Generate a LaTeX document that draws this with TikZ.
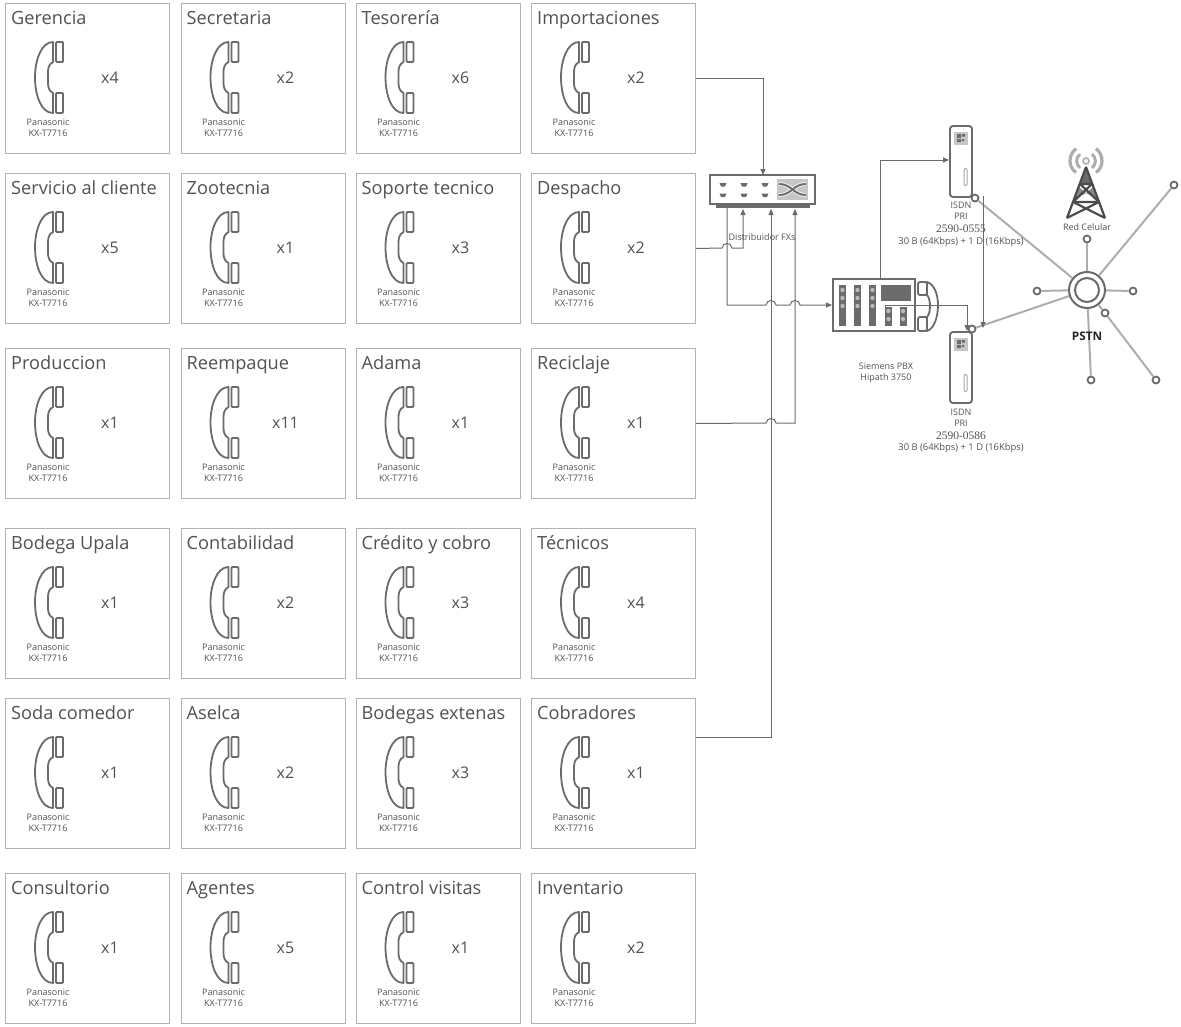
\documentclass[tikz,border=0pt]{standalone}
\usepackage{fontspec}
\setmainfont{Open Sans}
\newfontfamily\numfont{Liberation Serif}
\usetikzlibrary{arrows.meta,calc}
\definecolor{boxgray}{gray}{0.7}
\definecolor{ink}{gray}{0.32}
\definecolor{dev}{gray}{0.42}
\definecolor{wirec}{gray}{0.42}
\definecolor{spoke}{gray}{0.68}
\newcommand{\hopx}[2]{-- (#1-5,#2) .. controls (#1-4,#2-6) and (#1+4,#2-6) .. (#1+5,#2)}
\newcommand{\office}[6]{%
  \node[officebox] (#1) at (#2,#3) {};
  \node[titletext] (#1-t) at ($(#1.north west)+(6,21.5)$) {#4};
  \pic at (#1.north west) {handset};
  \node[counttext] (#1-c) at ($(#1.north west)+(#6,75)$) {#5};
  \node[smalltext,align=center] (#1-m) at ($(#1.north west)+(43,124.5)$) {Panasonic\\KX-T7716};
}
\tikzset{
  x=1pt,y=-1pt,
  officebox/.style={draw=boxgray,line width=1pt,fill=white,anchor=north west,minimum width=164pt,minimum height=150pt,inner sep=0pt},
  titletext/.style={anchor=base west,inner sep=0pt,text=ink,font=\fontsize{18.2}{18}\selectfont},
  counttext/.style={inner sep=0pt,text=ink,font=\fontsize{16}{18}\selectfont},
  smalltext/.style={inner sep=0pt,text=ink,font=\fontsize{9}{11}\selectfont},
  ratetext/.style={inner sep=0pt,text=ink,font=\fontsize{9.4}{11}\selectfont},
  devline/.style={draw=dev,line width=1.8pt},
  wire/.style={draw=wirec,line width=1pt,-{Triangle[length=6pt,width=5pt]}},
  wireplain/.style={draw=wirec,line width=1pt},
  spokeline/.style={draw=spoke,line width=2pt},
  endpoint/.style={circle,draw=dev,line width=1.8pt,fill=white,minimum size=7pt,inner sep=0pt},
  handset/.pic={
    \draw[devline,line join=round] (48,39) .. controls (36,39) and (30,58) .. (30,74)
      .. controls (30,92) and (36,110) .. (48,110) -- (48,90) .. controls (44,88) and (43,84) .. (43,80) -- (43,69) .. controls (43,65) and (44,61) .. (48,59) -- cycle;
    \draw[devline,rounded corners=1pt] (51,39) rectangle (58,59);
    \draw[devline,rounded corners=1pt] (51,90) rectangle (58,110);
  },
  isdnpic/.pic={
    \fill[gray!45] (-7,-30) rectangle (7,-17);
    \fill[dev] (-4,-27.5) rectangle (0,-23.5) (1,-27.5) rectangle (4,-25) (-4,-22.5) rectangle (0,-19.5) (1,-22.5) rectangle (3,-20.5);
    \draw[draw=gray!70,line width=1pt,rounded corners=1pt] (3,7) rectangle (6,24);
  },
  isdnbox/.style={draw=dev,line width=1.9pt,rounded corners=3pt,fill=white,minimum width=22pt,minimum height=71pt,inner sep=0pt},
}
\begin{document}
\begin{tikzpicture}
\useasboundingbox (0,0) rectangle (1181,1026);
\office{gerencia}{5}{3}{Gerencia}{x4}{105}
\office{secretaria}{180.5}{3}{Secretaria}{x2}{105}
\office{tesoreria}{355.5}{3}{Tesorería}{x6}{105}
\office{importaciones}{531}{3}{Importaciones}{x2}{105}
\office{servicio}{5}{173}{Servicio al cliente}{x5}{105}
\office{zootecnia}{180.5}{173}{Zootecnia}{x1}{105}
\office{soporte}{355.5}{173}{Soporte tecnico}{x3}{105}
\office{despacho}{531}{173}{Despacho}{x2}{105}
\office{produccion}{5}{348}{Produccion}{x1}{105}
\office{reempaque}{180.5}{348}{Reempaque}{x11}{105}
\office{adama}{355.5}{348}{Adama}{x1}{105}
\office{reciclaje}{531}{348}{Reciclaje}{x1}{105}
\office{upala}{5}{528}{Bodega Upala}{x1}{105}
\office{contabilidad}{180.5}{528}{Contabilidad}{x2}{105}
\office{credito}{355.5}{528}{Crédito y cobro}{x3}{105}
\office{tecnicos}{531}{528}{Técnicos}{x4}{105}
\office{soda}{5}{698}{Soda comedor}{x1}{105}
\office{aselca}{180.5}{698}{Aselca}{x2}{105}
\office{bodegas}{355.5}{698}{Bodegas extenas}{x3}{105}
\office{cobradores}{531}{698}{Cobradores}{x1}{105}
\office{consultorio}{5}{873}{Consultorio}{x1}{105}
\office{agentes}{180.5}{873}{Agentes}{x5}{105}
\office{control}{355.5}{873}{Control visitas}{x1}{105}
\office{inventario}{531}{873}{Inventario}{x2}{105}

% Distribuidor
\node[draw=dev,line width=2pt,fill=white,minimum width=105pt,minimum height=29pt,inner sep=0pt] (sw) at (762.5,189.5) {};
\fill[dev] (716,204) rectangle (810,208);
\foreach \xx in {723,744,765}{
  \foreach \yy in {183,193.5}{
    \fill[dev] (\xx-3.5,\yy) -- (\xx+3.5,\yy) -- (\xx+2,\yy+3.5) -- (\xx-2,\yy+3.5) -- cycle;
  }
}
\fill[gray!45] (777,179) rectangle (808,200);
\foreach \cc/\wd in {white/3.6,dev/2}{
\draw[\cc,line width=\wd pt] (779,184) .. controls (792,184) and (793,195) .. (806,195);
\draw[\cc,line width=\wd pt] (779,195) .. controls (792,195) and (793,184) .. (806,184);
}
\coordinate (swtop) at (763,175);
\coordinate (swa) at (727,208);
\coordinate (swb) at (743,209);
\coordinate (swc) at (771,209);
\coordinate (swd) at (795,209);

% PBX
\node[draw=dev,line width=1.9pt,fill=white,minimum width=82pt,minimum height=52pt,inner sep=0pt] (pbx) at (874,305) {};
\foreach \xx in {842.5,857.5,872.5}{
  \fill[dev] (\xx-3.5,285) rectangle (\xx+3.5,326);
  \foreach \yy in {290,298,306}{\fill[gray!55] (\xx,\yy) circle (2.2);}
}
\fill[dev] (881,285) rectangle (911,301);
\foreach \xx in {888.5,903}{
  \fill[dev] (\xx-3.5,307) rectangle (\xx+3.5,326);
  \foreach \yy in {311,319}{\fill[gray!55] (\xx,\yy) circle (2.2);}
}
\draw[devline,line join=round] (927,282) .. controls (934,284) and (938,294) .. (938,305)
  .. controls (938,317) and (934,329) .. (927,331) -- (927,317) .. controls (931,313) and (931,299) .. (927,295) -- cycle;
\draw[devline,rounded corners=2pt] (918,282) rectangle (927,295);
\draw[devline,rounded corners=2pt] (918,317) rectangle (927,331);
\node[smalltext,align=center] (pbxlabel) at (886,373) {Siemens PBX\\Hipath 3750};

% ISDN
\node[isdnbox] (isdn1) at (961,161.5) {};
\pic at (isdn1.center) {isdnpic};
\node[isdnbox] (isdn2) at (961,367.5) {};
\pic at (isdn2.center) {isdnpic};

% tower
\draw[spoke,line width=3.2pt] (1076,148.5) .. controls (1068,155) and (1068,167) .. (1076,172.5);
\draw[spoke,line width=3.2pt] (1096,148.5) .. controls (1104,155) and (1104,167) .. (1096,172.5);
\draw[spoke,line width=3pt] (1080,154) .. controls (1075.5,158) and (1075.5,164) .. (1080,168);
\draw[spoke,line width=3pt] (1092,154) .. controls (1096.5,158) and (1096.5,164) .. (1092,168);
\draw[spoke,line width=1.6pt] (1086,161) circle (3);
\fill[dev] (1086,166) -- (1092,184) -- (1080,184) -- cycle;
\fill[dev!80] (1079,187) -- (1086,193) -- (1093,187) -- (1097,199) -- (1086,193) -- (1075,199) -- cycle;
\draw[dev!70!black,line width=2.2pt,line join=round] (1086,167) -- (1067,218) (1086,167) -- (1105,218) (1080,184) -- (1092,184) (1080,184) -- (1099,202) (1092,184) -- (1073,202) (1073,202) -- (1099,202) (1073,202) -- (1105,218) (1099,202) -- (1067,218);

% PSTN
\node[circle,draw=dev,line width=2pt,fill=white,minimum size=36pt,inner sep=0pt] (pstn) at (1087,290) {};
\node[circle,draw=dev,line width=2pt,minimum size=24pt,inner sep=0pt] (pstnin) at (1087,290) {};
\node[endpoint] (e1) at (975,198) {};
\node[endpoint] (e2) at (972,329) {};
\node[endpoint] (e3) at (1087,239) {};
\node[endpoint] (e4) at (1174,185) {};
\node[endpoint] (e5) at (1037,291) {};
\node[endpoint] (e6) at (1133,291) {};
\node[endpoint] (e7) at (1091,380) {};
\node[endpoint] (e8) at (1156,380) {};
\node[endpoint] (e9) at (1105,313) {};
\foreach \e in {e1,e2,e3,e4,e5,e6,e7,e9}{\draw[spokeline] (pstn) -- (\e);}
\draw[spokeline] (e9) -- (e8);

% connectors
\draw[wire] (importaciones.east) -| (swtop);
\draw[wire] (despacho.east) \hopx{727}{248} -- (743,248) -- (swb);
\draw[wire] (swa) -- (727,305) \hopx{771}{305} \hopx{795}{305} -- (pbx.west);
\draw[wire] (reciclaje.east) \hopx{771}{423} -- (795,423) -- (swd);
\draw[wire] ($(cobradores.north east)+(0,39)$) -| (swc);
\draw[wire] (pbx.north -| 880,0) -- (880,160) -- (isdn1.west |- 0,160);
\draw[wire] (885,307) -- (885,305) -- (967,305) -- (967,331);
\draw[wire] (983,196) -- (983,328);

% labels on top
\node[smalltext] (swlabel) at (762,237) {Distribuidor FXs};
\node[smalltext,align=center] (i1a) at (961,211) {ISDN\\PRI};
\node[inner sep=0pt,text=ink,font=\numfont\fontsize{11.5}{12}\selectfont] (i1b) at (961,229) {2590-0555};
\node[ratetext] (i1c) at (961,242) {30 B (64Kbps) + 1 D (16Kbps)};
\node[smalltext,align=center] (i2a) at (961,417.5) {ISDN\\PRI};
\node[inner sep=0pt,text=ink,font=\numfont\fontsize{11.5}{12}\selectfont] (i2b) at (961,436) {2590-0586};
\node[ratetext] (i2c) at (961,448) {30 B (64Kbps) + 1 D (16Kbps)};
\node[smalltext] (redlabel) at (1087,227) {Red Celular};
\node[font=\bfseries\fontsize{11.8}{12}\selectfont,text=black!85,inner sep=0pt] (pstnl) at (1087,336) {PSTN};
\end{tikzpicture}
\end{document}
